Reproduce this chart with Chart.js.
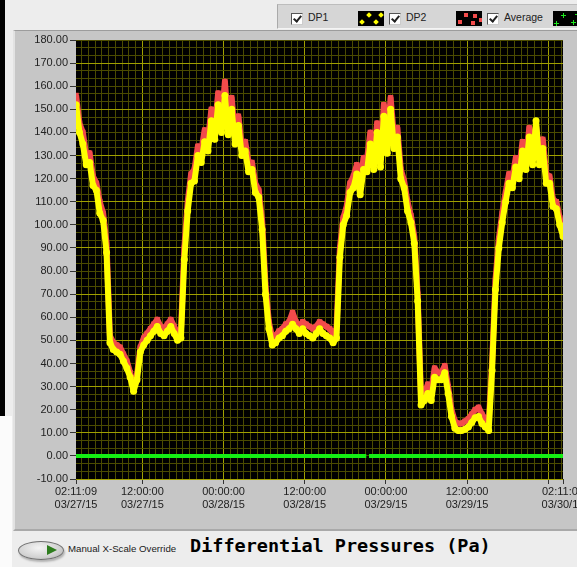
<!DOCTYPE html>
<html>
<head>
<meta charset="utf-8">
<script src="https://cdn.jsdelivr.net/npm/chart.js@4.4.1/dist/chart.umd.min.js"></script>
<style>
  body { margin: 0; width: 577px; height: 567px; overflow: hidden; background: #ededed; position: relative; font-family: "Liberation Sans", Arial, sans-serif; }
  #blackStrip { position: absolute; left: 0; top: 0; width: 5px; height: 416px; background: #000; }
  #whiteStrip { position: absolute; left: 0; top: 416px; width: 12px; height: 151px; background: #fbfbfb; }
  #panel { position: absolute; left: 13px; top: 30px; width: 580px; height: 498px; background: #c6c6c6; border-top: 1px solid #9c9c9c; border-left: 2px solid #e2e2e2; border-bottom: 2px solid #a9a9a9; }
  #legendBar { position: absolute; left: 277px; top: 4px; width: 310px; height: 23px; background: #d6d6d6; border-left: 1px solid #aaa; border-top: 1px solid #bdbdbd; border-bottom: 1px solid #f4f4f4; }
  .check { position: absolute; top: 8px; width: 10px; height: 10px; background: #fff; border: 1px solid #555; border-right-color: #ccc; border-bottom-color: #ccc; }
  .check::after { content: ""; position: absolute; left: 3px; top: 0px; width: 3px; height: 6px; border: solid #222; border-width: 0 2px 2px 0; transform: rotate(40deg); }
  .ltext { position: absolute; top: 6px; font-size: 10.5px; color: #222; }
  .swatch { position: absolute; top: 6px; width: 26px; height: 15px; background: #000; overflow: hidden; }
  .swatch span { position: absolute; }
  .ydot { width: 4px; height: 4px; background: #ffff00; transform: rotate(45deg); }
  .rsq { width: 4px; height: 4px; background: #f24b4b; }
  .gplus { width: 5px; height: 5px; background: linear-gradient(#1ee81e, #1ee81e) center/5px 1px no-repeat, linear-gradient(#1ee81e, #1ee81e) center/1px 5px no-repeat; }
  #toggle { position: absolute; left: 18px; top: 541px; width: 44px; height: 17px; border-radius: 50%; border: 1px solid #6f6f6f; background: radial-gradient(ellipse at 45% 35%, #f4f4f4 0%, #d2d2d2 60%, #a8a8a8 100%); box-shadow: 1px 2px 2px rgba(0,0,0,0.25); }
  #toggle::after { content: ""; position: absolute; left: 28px; top: 3px; border-left: 10px solid #2e7d1e; border-top: 5px solid transparent; border-bottom: 5px solid transparent; }
  #overrideText { position: absolute; left: 68px; top: 543px; font-size: 9.7px; color: #1a1a1a; }
  #chartTitle { position: absolute; left: 190px; top: 535px; font-family: "DejaVu Sans Mono", monospace; font-weight: bold; font-size: 18.5px; color: #000; white-space: pre; }
  canvas { position: absolute; left: 0; top: 0; }
</style>
</head>
<body>
<div id="blackStrip"></div>
<div id="whiteStrip"></div>
<div id="panel"></div>
<div id="legendBar">
  <span class="check" style="left:13px"></span><span class="ltext" style="left:30px">DP1</span>
  <span class="swatch" style="left:80px"><span class="ydot" style="left:9px;top:2px"></span><span class="ydot" style="left:21px;top:2px"></span><span class="ydot" style="left:2px;top:9px"></span><span class="ydot" style="left:16px;top:9px"></span></span>
  <span class="check" style="left:111px"></span><span class="ltext" style="left:128px">DP2</span>
  <span class="swatch" style="left:178px"><span class="rsq" style="left:8px;top:2px"></span><span class="rsq" style="left:17px;top:3px"></span><span class="rsq" style="left:2px;top:9px"></span><span class="rsq" style="left:15px;top:10px"></span><span class="rsq" style="left:23px;top:7px"></span></span>
  <span class="check" style="left:209px"></span><span class="ltext" style="left:226px">Average</span>
  <span class="swatch" style="left:275px"><span class="gplus" style="left:8px;top:2px"></span><span class="gplus" style="left:18px;top:9px"></span><span class="gplus" style="left:1px;top:10px"></span><span class="gplus" style="left:22px;top:1px"></span></span>
</div>
<canvas id="dpChart" width="620" height="530"></canvas>
<div id="toggle"></div>
<div id="overrideText">Manual X-Scale Override</div>
<div id="chartTitle">Differential Pressures (Pa)</div>

<script>
  // hours counted from 03/27/15 00:00:00
  const startHour = 2 + 11 / 60 + 9 / 3600;   // 02:11:09
  const endHour = startHour + 72;
  const sampleStartHour = 2.2;
  const sampleStepHours = 0.5;

  // readings every half hour
  const dp1 = [
    152, 140, 135, 126, 127, 117, 115, 105, 102, 88,
    49, 46, 45, 44, 41, 38, 34, 28, 33, 45,
    48, 50, 52, 54, 56, 53, 52, 54, 56, 53,
    50, 51, 85, 106, 118, 119, 130, 127, 136, 132,
    145, 137, 152, 140, 156, 139, 150, 135, 143, 130,
    132, 123, 124, 114, 112, 98, 70, 55, 48, 49,
    51, 52, 54, 55, 57, 55, 53, 55, 53, 52,
    51, 53, 55, 53, 52, 51, 49, 51, 86, 100,
    104, 114, 116, 122, 113, 124, 123, 135, 124, 140,
    125, 147, 131, 150, 133, 138, 120, 116, 106, 101,
    92, 67, 22, 24, 27, 24, 34, 33, 33, 36,
    27, 17, 12, 11, 11, 11.5, 12.5, 14.5, 16.5, 17,
    14, 12.5, 11, 37, 72, 90, 101, 110, 118, 116,
    125, 120, 132, 124, 138, 126, 145, 126, 133, 118,
    118, 108, 107, 100, 95
  ];
  const dp2 = [
    156, 144, 140, 130, 131, 121, 118, 110, 105, 92,
    52, 49, 48, 47, 44, 41, 36, 30, 35, 47,
    51, 53, 55, 57, 59, 56, 55, 57, 59, 56,
    53, 54, 90, 110, 122, 124, 134, 132, 141, 137,
    150, 142, 157, 145, 162, 143, 155, 139, 147, 134,
    136, 127, 127, 118, 115, 102, 74, 58, 51, 52,
    54, 55, 57, 58, 62, 58, 56, 58, 57, 56,
    55, 56, 58, 57, 56, 55, 53, 55, 90, 103,
    108, 118, 121, 126, 118, 129, 128, 140, 129, 144,
    130, 152, 136, 155, 138, 142, 124, 119, 110, 104,
    95, 70, 25, 27, 31, 28, 38, 36, 36, 39,
    30, 20, 15, 14, 14, 15, 16, 18, 20, 21,
    18, 16, 14, 40, 76, 94, 105, 114, 122, 120,
    129, 124, 136, 128, 142, 130, 143, 130, 137, 122,
    121, 111, 110, 103, 97
  ];
  const averageHours = [startHour, 45.1, 45.3, 45.5, endHour];
  const averageValues = [0, 0, null, 0, 0];

  const xTickHours = [startHour, 12, 24, 36, 48, 60, endHour];
  const xTickLabels = [
    ['02:11:09', '03/27/15'], ['12:00:00', '03/27/15'], ['00:00:00', '03/28/15'],
    ['12:00:00', '03/28/15'], ['00:00:00', '03/29/15'], ['12:00:00', '03/29/15'],
    ['02:11:09', '03/30/15']
  ];
  const yMin = -10;
  const yMax = 180;

  const majorGrid = '#a0a000';
  const minorGrid = '#4b4b00';
  const tickMark = '#333333';
  const none = 'rgba(0,0,0,0)';

  function near(a, b) {
    return Math.abs(a - b) < 1e-6;
  }

  function isMultiple(v, step) {
    return near(v / step, Math.round(v / step));
  }

  function toPoints(values) {
    return values.map((v, i) => ({ x: sampleStartHour + i * sampleStepHours, y: v }));
  }

  function xLabelIndex(v) {
    return xTickHours.findIndex(h => near(h, v));
  }

  // black plot background like the LabVIEW graph
  const plotBackground = {
    id: 'plotBackground',
    beforeDraw(chart) {
      const a = chart.chartArea;
      const ctx = chart.ctx;
      ctx.save();
      ctx.fillStyle = '#000';
      ctx.fillRect(a.left, a.top, a.right - a.left, a.bottom - a.top);
      ctx.restore();
    }
  };

  const tickFont = { family: "'Liberation Sans', Arial, sans-serif", size: 11, lineHeight: 1.15 };

  new Chart(document.getElementById('dpChart'), {
    type: 'line',
    data: {
      datasets: [
        {
          label: 'DP1',
          data: toPoints(dp1),
          borderColor: '#ffff00',
          backgroundColor: '#ffff00',
          borderWidth: 6,
          borderJoinStyle: 'round',
          pointStyle: 'circle',
          pointRadius: 3.5,
          pointBorderWidth: 0,
          tension: 0,
          clip: 0
        },
        {
          label: 'DP2',
          data: toPoints(dp2),
          borderColor: '#f24b4b',
          backgroundColor: '#f24b4b',
          borderWidth: 6,
          borderJoinStyle: 'round',
          pointStyle: 'rect',
          pointRadius: 3.8,
          pointBorderWidth: 0,
          tension: 0,
          clip: 0
        },
        {
          label: 'Average',
          data: averageHours.map((h, i) => ({ x: h, y: averageValues[i] })),
          borderColor: '#14ee14',
          borderWidth: 4,
          borderCapStyle: 'butt',
          pointRadius: 0,
          spanGaps: false,
          clip: 0
        }
      ]
    },
    options: {
      responsive: false,
      animation: false,
      devicePixelRatio: 1,
      layout: { padding: { top: 40, right: 57, bottom: 0, left: 0 } },
      plugins: {
        legend: { display: false },
        tooltip: { enabled: false }
      },
      scales: {
        x: {
          type: 'linear',
          min: startHour,
          max: endHour,
          afterBuildTicks: scale => {
            const ticks = [{ value: startHour }];
            for (let h = 3; h <= 74; h++) ticks.push({ value: h });
            ticks.push({ value: endHour });
            scale.ticks = ticks;
          },
          afterFit: scale => { scale.height = 51; },
          border: { display: false },
          grid: {
            tickLength: 5,
            color: ctx => {
              const v = ctx.tick.value;
              if (near(v, startHour) || near(v, endHour)) return none;
              return isMultiple(v, 12) ? majorGrid : minorGrid;
            },
            tickColor: ctx => {
              const v = ctx.tick.value;
              return (xLabelIndex(v) >= 0 || near(v, 72)) ? tickMark : none;
            }
          },
          ticks: {
            autoSkip: false,
            maxRotation: 0,
            minRotation: 0,
            padding: 2,
            color: '#222',
            font: tickFont,
            callback: value => {
              const i = xLabelIndex(value);
              return i >= 0 ? xTickLabels[i] : '';
            }
          }
        },
        y: {
          min: yMin,
          max: yMax,
          afterBuildTicks: scale => {
            const ticks = [];
            for (let k = 0; k <= 57; k++) ticks.push({ value: yMin + k * 10 / 3 });
            scale.ticks = ticks;
          },
          afterFit: scale => { scale.width = 76; },
          border: { display: false },
          grid: {
            tickLength: 6,
            color: ctx => isMultiple(ctx.tick.value + 10, 20) ? majorGrid : minorGrid,
            tickColor: ctx => isMultiple(ctx.tick.value, 10) ? tickMark : none
          },
          ticks: {
            autoSkip: false,
            padding: 2,
            color: '#222',
            font: tickFont,
            callback: value => isMultiple(value, 10) ? Math.round(value).toFixed(2) : ''
          }
        }
      }
    },
    plugins: [plotBackground]
  });
</script>
</body>
</html>
